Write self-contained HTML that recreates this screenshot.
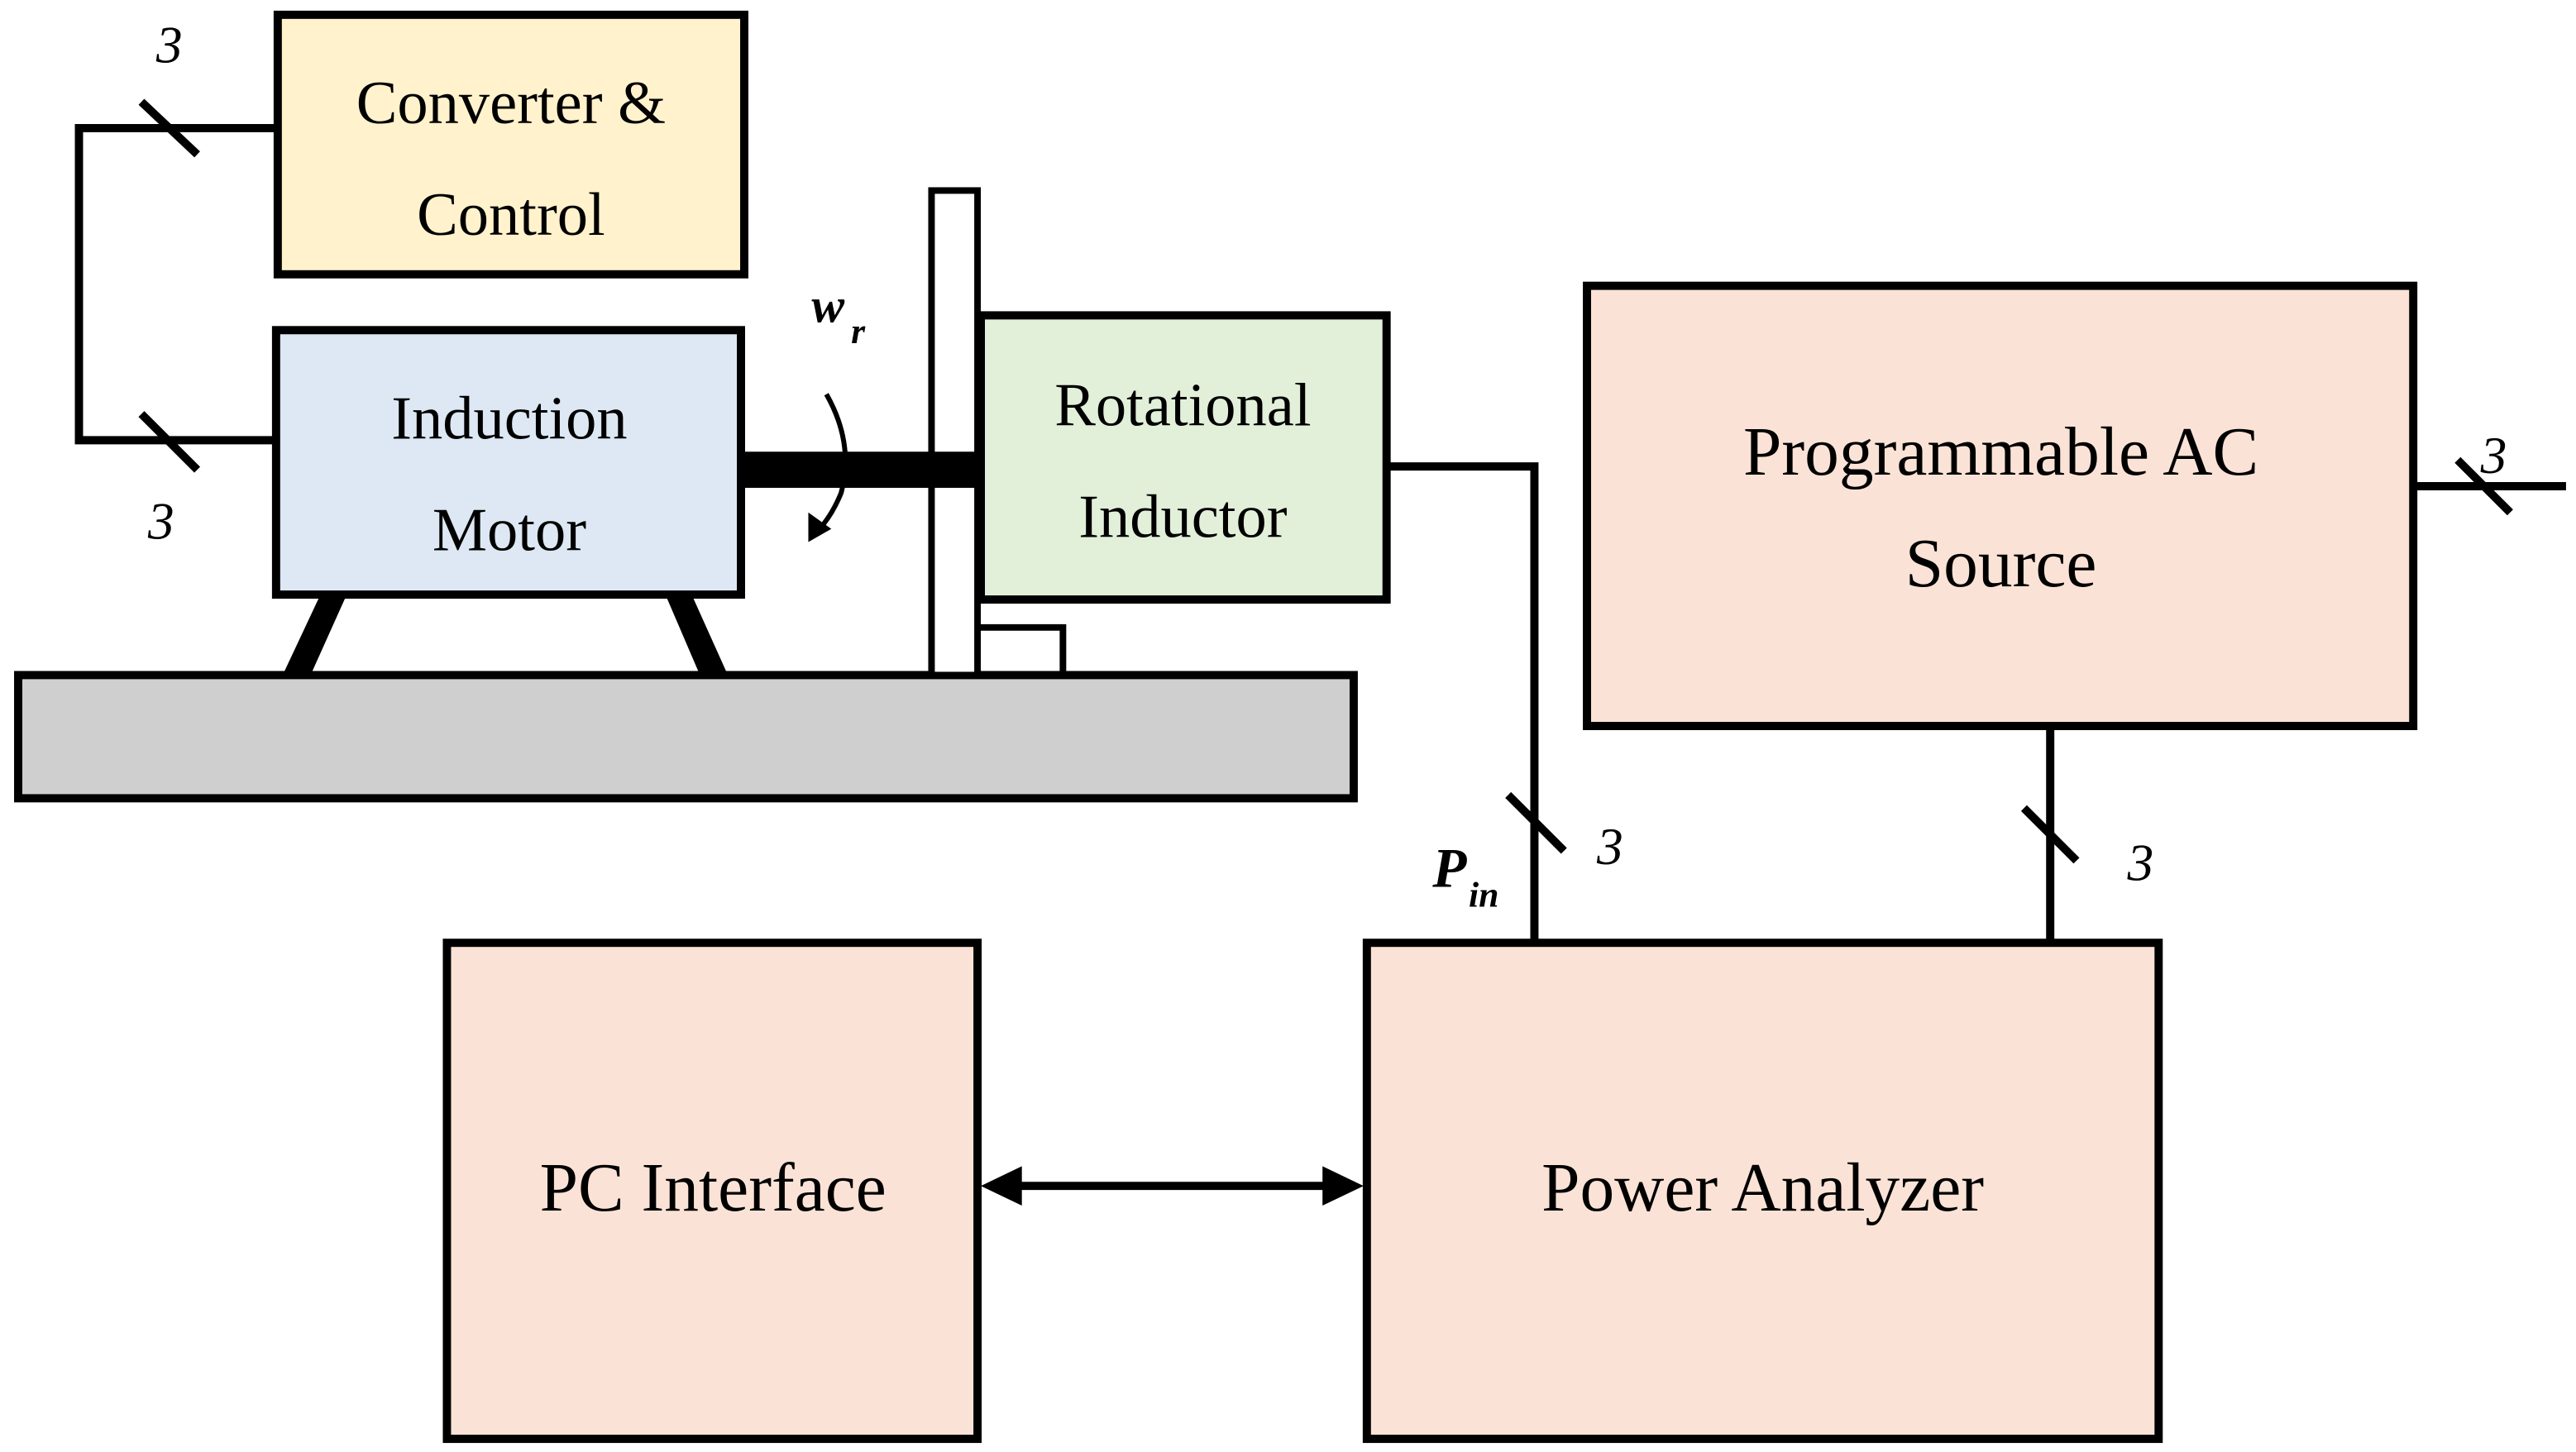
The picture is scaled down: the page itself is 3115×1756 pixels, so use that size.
<!DOCTYPE html>
<html><head><meta charset="utf-8">
<style>
html,body{margin:0;padding:0;background:#fff;}
svg{display:block;}
text{font-family:"Liberation Serif",serif;}
</style></head>
<body>
<svg width="3115" height="1756" viewBox="0 0 1568 884" xmlns="http://www.w3.org/2000/svg">
<rect width="1568" height="884" fill="#fff"/>
<!-- base -->
<rect x="11" y="411" width="813" height="75" fill="#d0cfd0" stroke="#000" stroke-width="5"/>
<!-- legs -->
<polygon points="172,411 189,411 211,362 195,362" fill="#000"/>
<polygon points="405,362 421,362 443,411 426,411" fill="#000"/>
<!-- converter -->
<rect x="169" y="9" width="284" height="158" fill="#fff2cc" stroke="#000" stroke-width="5"/>
<text x="311" y="75" font-size="37.5" text-anchor="middle">Converter &amp;</text>
<text x="311" y="143" font-size="37.5" text-anchor="middle">Control</text>
<!-- motor -->
<rect x="168" y="201" width="283" height="161" fill="#dde8f4" stroke="#000" stroke-width="5"/>
<text x="310" y="267" font-size="37.5" text-anchor="middle">Induction</text>
<text x="310" y="335" font-size="37.5" text-anchor="middle">Motor</text>
<!-- plate -->
<rect x="567" y="116" width="28" height="295" fill="#fff" stroke="#000" stroke-width="4"/>
<polyline points="595,382 647,382 647,411" fill="none" stroke="#000" stroke-width="4"/>
<!-- shaft -->
<rect x="451" y="275" width="147" height="22" fill="#000"/>
<!-- rotational inductor -->
<rect x="597" y="192" width="247" height="173" fill="#e2efd9" stroke="#000" stroke-width="5"/>
<text x="720" y="259" font-size="37.5" text-anchor="middle">Rotational</text>
<text x="720" y="327" font-size="37.5" text-anchor="middle">Inductor</text>
<!-- rotation arrow -->
<path d="M503,240 Q520,270 512,300 Q506,315 496,325" fill="none" stroke="#000" stroke-width="3"/>
<polygon points="492,330 492,312 506,322" fill="#000"/>
<text x="494" y="196" font-size="30" font-weight="bold" font-style="italic">w</text>
<text x="518" y="209" font-size="22" font-weight="bold" font-style="italic">r</text>
<!-- converter-motor wires -->
<polyline points="169,78 48,78 48,268 168,268" fill="none" stroke="#000" stroke-width="5"/>
<line x1="86" y1="62" x2="120" y2="94" stroke="#000" stroke-width="5"/>
<line x1="86" y1="252" x2="120" y2="286" stroke="#000" stroke-width="5"/>
<text x="103" y="38" font-size="32" font-style="italic" text-anchor="middle">3</text>
<text x="98" y="328" font-size="32" font-style="italic" text-anchor="middle">3</text>
<!-- inductor to analyzer -->
<polyline points="844,284 934,284 934,574" fill="none" stroke="#000" stroke-width="5"/>
<line x1="918" y1="484" x2="952" y2="518" stroke="#000" stroke-width="5"/>
<text x="980" y="526" font-size="32" font-style="italic" text-anchor="middle">3</text>
<text x="872" y="540" font-size="34" font-weight="bold" font-style="italic">P</text>
<text x="894" y="552" font-size="22" font-weight="bold" font-style="italic">in</text>
<!-- programmable AC source -->
<rect x="966" y="174" width="503" height="268" fill="#fae3d6" stroke="#000" stroke-width="5"/>
<text x="1218" y="289" font-size="42" text-anchor="middle">Programmable AC</text>
<text x="1218" y="357" font-size="42" text-anchor="middle">Source</text>
<line x1="1469" y1="296" x2="1562" y2="296" stroke="#000" stroke-width="5"/>
<line x1="1496" y1="280" x2="1528" y2="312" stroke="#000" stroke-width="5"/>
<text x="1518" y="288" font-size="32" font-style="italic" text-anchor="middle">3</text>
<line x1="1248" y1="442" x2="1248" y2="574" stroke="#000" stroke-width="5"/>
<line x1="1232" y1="492" x2="1264" y2="524" stroke="#000" stroke-width="5"/>
<text x="1303" y="536" font-size="32" font-style="italic" text-anchor="middle">3</text>
<!-- PC interface -->
<rect x="272" y="574" width="323" height="302" fill="#fae3d6" stroke="#000" stroke-width="5"/>
<text x="434" y="737" font-size="42" text-anchor="middle">PC Interface</text>
<!-- power analyzer -->
<rect x="832" y="574" width="482" height="302" fill="#fae3d6" stroke="#000" stroke-width="5"/>
<text x="1073" y="737" font-size="42" text-anchor="middle">Power Analyzer</text>
<!-- double arrow -->
<line x1="615" y1="722" x2="812" y2="722" stroke="#000" stroke-width="5"/>
<polygon points="597,722 622,710 622,734" fill="#000"/>
<polygon points="830,722 805,710 805,734" fill="#000"/>
</svg>
</body></html>
